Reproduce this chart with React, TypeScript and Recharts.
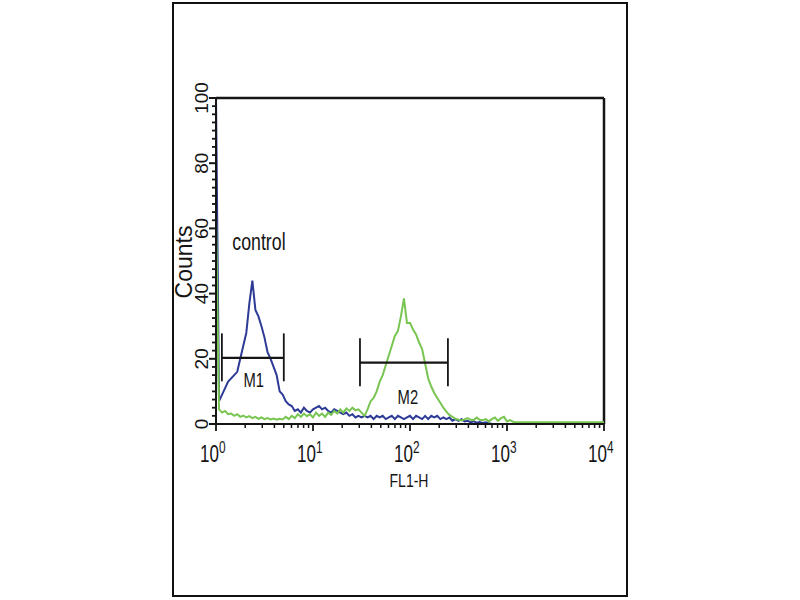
import React from 'react';
import { LineChart, Line, XAxis, YAxis, ReferenceLine, ReferenceDot } from 'recharts';

// Histogram bins: 129 channels (step 8 of 1024), 4 log decades
const CHANNEL_STEP = 8;
const CHANNELS_PER_DECADE = 256;

const controlCounts = [
  100, 7, 9, 11, 13, 14, 15, 16, 20, 24,
  28, 37, 44, 35, 33, 30, 26.5, 22, 20, 17.5,
  15, 10, 9, 7, 6, 5.5, 4, 4.5, 3.5, 5,
  4, 3.5, 4.5, 5, 5.5, 4.5, 5, 4, 3.5, 4.5,
  4, 3.5, 3, 3.5, 2.5, 3, 2, 2.5, 2, 2.5,
  2, 2.5, 1.5, 2.5, 2, 2.5, 1.5, 2, 2.5, 1.5,
  2.5, 2, 1.5, 2, 2.5, 1.5, 2.5, 2, 1.5, 2.5,
  1.5, 2.5, 2, 2.5, 1.5, 2, 1.5, 2, 1, 1.5,
  1, 1.5, 0.8, 1, 0.5, 0.8, 0.4, 0.6, 0.3, 0.5,
  0.2, 0, 0, 0, 0, 0, 0, 0, 0, 0,
  0, 0, 0, 0, 0, 0, 0, 0, 0, 0,
  0, 0, 0, 0, 0, 0, 0, 0, 0, 0,
  0, 0, 0, 0, 0, 0, 0, 0, 0,
];

const sampleCounts = [
  65, 4.5, 3.5, 4, 3, 3.2, 2.5, 3, 2.2, 2.6,
  2, 2.4, 1.8, 2.2, 1.6, 2, 1.5, 1.8, 1.4, 1.7,
  1.3, 1.6, 1.4, 2.2, 1.5, 2.5, 1.8, 3, 2.2, 3.2,
  2.4, 3, 2, 3.5, 2.5, 3.2, 2.2, 3.5, 2.8, 4,
  3.2, 4.5, 3.5, 4.8, 4, 5, 4.2, 4.5, 3.5, 2.5,
  4.5, 7, 8, 10, 13, 15, 18, 21, 24, 27,
  28.5, 33, 38.5, 31, 31, 29, 27.5, 25, 23, 18.5,
  14, 11.5, 9.5, 8, 6.5, 5, 3.8, 2.8, 2.2, 1.6,
  1.3, 1.1, 1.4, 1.8, 1.3, 1.2, 2, 1.3, 1.2, 1.5,
  0.8, 1.5, 2, 1, 1.8, 2.2, 0.8, 1.2, 0.7, 0.5,
  0.5, 0.5, 0.5, 0.5, 0.5, 0.5, 0.5, 0.5, 0.5, 0.5,
  0.5, 0.5, 0.5, 0.5, 0.5, 0.5, 0.5, 0.5, 0.5, 0.5,
  0.5, 0.5, 0.5, 0.5, 0.5, 0.5, 0.5, 0.5, 0.5,
];

const decadeTicks = [1, 10, 100, 1000, 10000];
const minorMultipliers = [2, 3, 4, 5, 6, 7, 8, 9];
const countTicks = [0, 20, 40, 60, 80, 100];
const countMinorStep = 2.5;

const markerNames = ['M1', 'M2'];
const markerStart = [1.15, 30.5];
const markerEnd = [5.0, 246];
const markerLevel = [20.3, 18.8];
const markerLabelX = [2.45, 95];
const markerLabelLevel = [13.5, 8.4];

const annotationText = 'control';
const annotationX = 2.77;
const annotationY = 56;

const xTitle = 'FL1-H';
const yTitle = 'Counts';

const BLUE = '#2d3a96';
const GREEN = '#78c551';
const INK = '#151515';
const SANS = "'Liberation Sans', Arial, sans-serif";
const SQUEEZE = 0.74;

const data = controlCounts.map((c, i) => ({
  fl1: Math.pow(10, (i * CHANNEL_STEP) / CHANNELS_PER_DECADE),
  control: c,
  sample: sampleCounts[i],
}));

const xTicks: number[] = [];
decadeTicks.forEach((d, k) => {
  xTicks.push(d);
  if (k < decadeTicks.length - 1) minorMultipliers.forEach((m) => xTicks.push(d * m));
});

const yTicks: number[] = [];
for (let v = 0; v <= 100 + 1e-9; v += countMinorStep) yTicks.push(v);

// Horizontally condensed text (the figure uses a narrow face)
const NarrowText = ({ x, y, size, anchor, children }: any) => (
  <g transform={`translate(${x}, ${y}) scale(${SQUEEZE}, 1)`}>
    <text x={0} y={0} textAnchor={anchor} fontSize={size} fontFamily={SANS} fill={INK}>
      {children}
    </text>
  </g>
);

const XTick = (props: any) => {
  const { x, y, payload } = props;
  const v = payload.value;
  const lg = Math.log10(v);
  const exp = Math.round(lg);
  const major = Math.abs(lg - exp) < 1e-6;
  if (!major) {
    return <line x1={x} x2={x} y1={y} y2={y + 4} stroke={INK} strokeWidth={1.5} />;
  }
  return (
    <g>
      <line x1={x} x2={x} y1={y} y2={y + 7} stroke={INK} strokeWidth={1.8} />
      <NarrowText x={x + 3} y={y + 38} size={23} anchor="end">10</NarrowText>
      <NarrowText x={x + 3} y={y + 29} size={16} anchor="start">{exp}</NarrowText>
    </g>
  );
};

const YTick = (props: any) => {
  const { x, y, payload } = props;
  const v = payload.value;
  const major = countTicks.some((t) => Math.abs(t - v) < 1e-6);
  if (!major) {
    return <line x1={x - 4} x2={x} y1={y} y2={y} stroke={INK} strokeWidth={1.8} />;
  }
  return (
    <g>
      <line x1={x - 7} x2={x} y1={y} y2={y} stroke={INK} strokeWidth={2} />
      <text
        x={x - 8}
        y={y}
        transform={`rotate(-90, ${x - 8}, ${y})`}
        textAnchor="middle"
        fontSize={19}
        fontFamily={SANS}
        fill={INK}
      >
        {v}
      </text>
    </g>
  );
};

const YTitle = (props: any) => {
  const vb = props.viewBox || { x: 176, y: 98, width: 40, height: 326 };
  const cx = vb.x + 16;
  const cy = 262;
  return (
    <text x={cx} y={cy} transform={`rotate(-90, ${cx}, ${cy})`} textAnchor="middle" fontSize={23} fontFamily={SANS} fill={INK}>
      {yTitle}
    </text>
  );
};

const XTitle = (props: any) => {
  const vb = props.viewBox || { x: 216, y: 424, width: 388, height: 30 };
  const cx = vb.x + vb.width / 2 - 1;
  return (
    <NarrowText x={cx} y={487} size={19} anchor="middle">{xTitle}</NarrowText>
  );
};

const TextAt = (text: string, size: number) => (props: any) => {
  const vb = props.viewBox || {};
  const cx = vb.x + (vb.width || 0) / 2;
  const cy = vb.y + (vb.height || 0) / 2;
  return (
    <NarrowText x={cx} y={cy + size * 0.36} size={size} anchor="middle">{text}</NarrowText>
  );
};

export default function App() {
  return (
    <div style={{ position: 'absolute', left: 0, top: 0, width: 800, height: 600, background: '#fff' }}>
      <div
        style={{
          position: 'absolute',
          left: 172,
          top: 2,
          width: 456,
          height: 595,
          border: '2px solid #111',
          boxSizing: 'border-box',
        }}
      />
      <div style={{ position: 'absolute', left: 0, top: 0 }}>
        <LineChart width={800} height={600} data={data} margin={{ top: 98, right: 196, bottom: 146, left: 176 }}>
          <XAxis
            dataKey="fl1"
            type="number"
            scale="log"
            domain={[1, 10000]}
            ticks={xTicks}
            interval={0}
            tickSize={0}
            tickMargin={0}
            tickLine={false}
            height={30}
            axisLine={{ stroke: INK, strokeWidth: 2 }}
            tick={(p: any) => <XTick {...p} />}
            allowDataOverflow
            label={(p: any) => <XTitle {...p} />}
          />
          <YAxis
            type="number"
            domain={[0, 100]}
            ticks={yTicks}
            interval={0}
            tickSize={0}
            tickMargin={0}
            tickLine={false}
            width={40}
            axisLine={{ stroke: INK, strokeWidth: 2 }}
            tick={(p: any) => <YTick {...p} />}
            allowDataOverflow
            label={(p: any) => <YTitle {...p} />}
          />
          <ReferenceLine y={100} stroke={INK} strokeWidth={2.5} />
          <ReferenceLine x={10000} stroke={INK} strokeWidth={2.5} />
          <Line
            type="linear"
            dataKey="control"
            stroke={BLUE}
            strokeWidth={2}
            dot={false}
            isAnimationActive={false}
          />
          <Line
            type="linear"
            dataKey="sample"
            stroke={GREEN}
            strokeWidth={2}
            dot={false}
            isAnimationActive={false}
          />
          {markerNames.map((name, i) => (
            <ReferenceLine
              key={name + 'h'}
              segment={[
                { x: markerStart[i], y: markerLevel[i] },
                { x: markerEnd[i], y: markerLevel[i] },
              ]}
              stroke={INK}
              strokeWidth={2.2}
            />
          ))}
          {markerNames.map((name, i) => (
            <ReferenceLine
              key={name + 'a'}
              segment={[
                { x: markerStart[i], y: markerLevel[i] + 7.5 },
                { x: markerStart[i], y: markerLevel[i] - 7.2 },
              ]}
              stroke={INK}
              strokeWidth={1.8}
            />
          ))}
          {markerNames.map((name, i) => (
            <ReferenceLine
              key={name + 'b'}
              segment={[
                { x: markerEnd[i], y: markerLevel[i] + 7.5 },
                { x: markerEnd[i], y: markerLevel[i] - 7.2 },
              ]}
              stroke={INK}
              strokeWidth={1.8}
            />
          ))}
          {markerNames.map((name, i) => (
            <ReferenceDot
              key={name + 'l'}
              x={markerLabelX[i]}
              y={markerLabelLevel[i]}
              r={0}
              fill="none"
              stroke="none"
              label={TextAt(name, 20)}
            />
          ))}
          <ReferenceDot
            x={annotationX}
            y={annotationY}
            r={0}
            fill="none"
            stroke="none"
            label={TextAt(annotationText, 24)}
          />
        </LineChart>
      </div>
    </div>
  );
}
